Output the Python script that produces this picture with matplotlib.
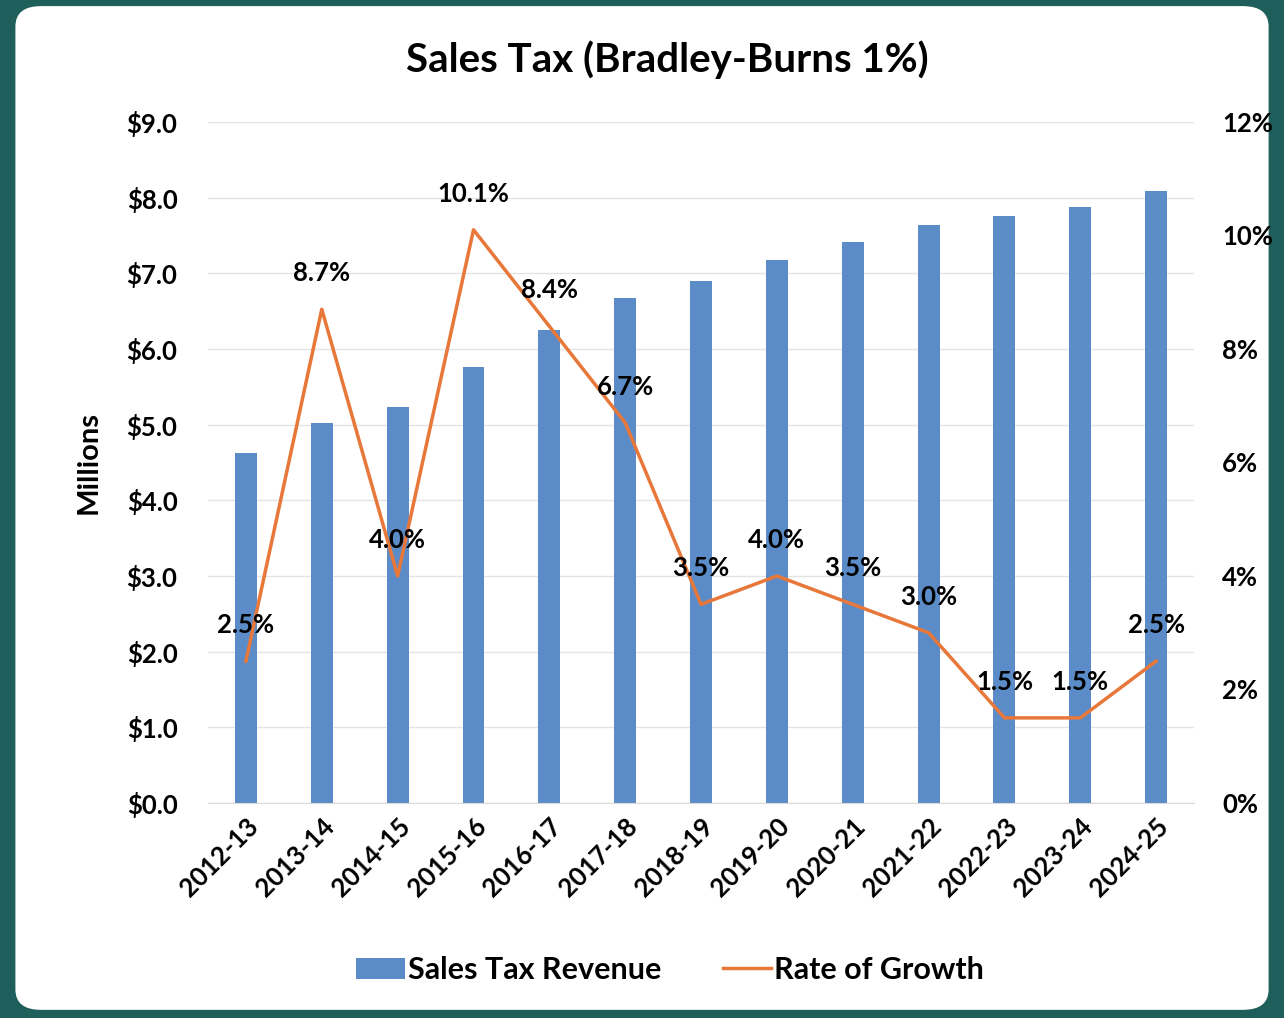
import matplotlib.pyplot as plt
from matplotlib.patches import FancyBboxPatch
from matplotlib.ticker import FuncFormatter

plt.rcParams['font.family'] = ['Lato', 'DejaVu Sans']
plt.rcParams['font.weight'] = 'bold'
plt.rcParams['axes.labelweight'] = 'bold'

years = ['2012-13', '2013-14', '2014-15', '2015-16', '2016-17', '2017-18', '2018-19',
         '2019-20', '2020-21', '2021-22', '2022-23', '2023-24', '2024-25']
revenue = [4.63, 5.02, 5.23, 5.76, 6.25, 6.67, 6.90, 7.18, 7.41, 7.64, 7.76, 7.88, 8.09]
growth = [2.5, 8.7, 4.0, 10.1, 8.4, 6.7, 3.5, 4.0, 3.5, 3.0, 1.5, 1.5, 2.5]

bar_col = '#5B8CC8'
line_col = '#E8773A'

fig = plt.figure(figsize=(12.84, 10.18), dpi=100)
fig.patch.set_facecolor('#1E5F5C')
card = FancyBboxPatch((0.012, 0.008), 0.976, 0.986, boxstyle='round,pad=0,rounding_size=0.02',
                      transform=fig.transFigure, facecolor='white', edgecolor='none', zorder=-10)
fig.patches.append(card)

ax = fig.add_axes([0.162, 0.2112, 0.768, 0.669])
ax2 = ax.twinx()
x = range(len(years))
b = ax.bar(x, revenue, width=0.29, color=bar_col, label='Sales Tax Revenue', zorder=2)
l, = ax2.plot(x, growth, color=line_col, lw=2.5, label='Rate of Growth', zorder=3)

ax.set_xlim(-0.5, 12.5)
ax.set_ylim(0, 9)
ax.set_yticks(range(10))
ax.yaxis.set_major_formatter(FuncFormatter(lambda v, p: '$%.1f' % v))
ax2.set_ylim(0, 12)
ax2.set_yticks(range(0, 13, 2))
ax2.yaxis.set_major_formatter(FuncFormatter(lambda v, p: '%d%%' % v))
ax.grid(axis='y', color='#E4E4E4', lw=1, zorder=0)
ax.set_axisbelow(True)

for a in (ax, ax2):
    for s in a.spines.values():
        s.set_visible(False)
    a.tick_params(length=0, labelsize=18.5)
ax.spines['bottom'].set_visible(True)
ax.spines['bottom'].set_color('#D9D9D9')
ax.tick_params(axis='y', pad=22)
ax2.tick_params(axis='y', pad=20)

ax.set_xticks(list(x))
ax.set_xticklabels(years, rotation=45, ha='right', rotation_mode='anchor', fontsize=18.5)
ax.tick_params(axis='x', pad=8)
ax.set_ylabel('Millions', fontsize=21, labelpad=18)

for i, g in enumerate(growth):
    ax2.annotate('%.1f%%' % g, (i, g), xytext=(0, 26), textcoords='offset points',
                 ha='center', va='center', fontsize=18.5)

fig.suptitle('Sales Tax (Bradley-Burns 1%)', fontsize=29, fontweight='bold', x=0.52, y=0.96)
fig.legend(handles=[b, l], loc='center', bbox_to_anchor=(0.522, 0.047), ncol=2, frameon=False,
           fontsize=22, handlelength=1.6, handletextpad=0.1, columnspacing=2.0)

fig.savefig('out.png', dpi=100, facecolor=fig.get_facecolor())
